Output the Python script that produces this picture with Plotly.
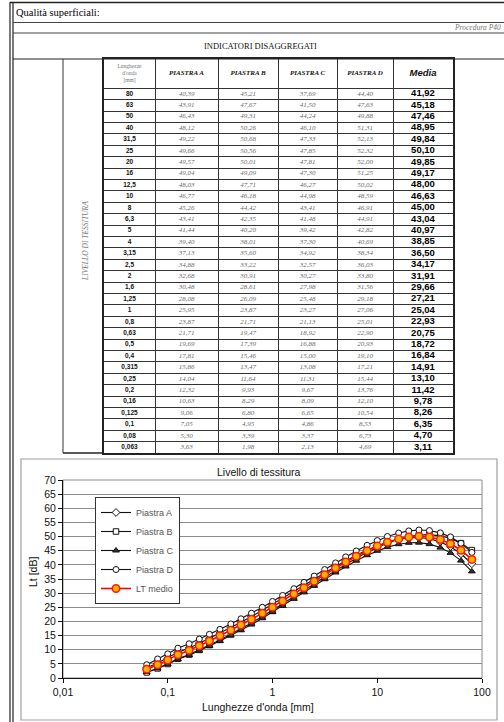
import plotly.graph_objects as go

# ---------------- data ----------------
freq = [80, 63, 50, 40, 31.5, 25, 20, 16, 12.5, 10, 8, 6.3, 5, 4, 3.15, 2.5, 2, 1.6,
        1.25, 1, 0.8, 0.63, 0.5, 0.4, 0.315, 0.25, 0.2, 0.16, 0.125, 0.1, 0.08, 0.063]
piastra_a = [40.39, 43.91, 46.43, 48.12, 49.22, 49.66, 49.57, 49.04, 48.03, 46.77, 45.26,
             43.41, 41.44, 39.40, 37.13, 34.88, 32.68, 30.48, 28.08, 25.95, 23.87, 21.71,
             19.69, 17.81, 15.86, 14.04, 12.32, 10.63, 9.06, 7.05, 5.30, 3.63]
piastra_b = [45.21, 47.67, 49.31, 50.26, 50.68, 50.56, 50.01, 49.09, 47.71, 46.18, 44.42,
             42.35, 40.20, 38.01, 35.60, 33.22, 30.91, 28.61, 26.09, 23.87, 21.71, 19.47,
             17.39, 15.46, 13.47, 11.64, 9.93, 8.29, 6.80, 4.95, 3.39, 1.98]
piastra_c = [37.69, 41.50, 44.24, 46.10, 47.33, 47.85, 47.81, 47.30, 46.27, 44.98, 43.41,
             41.48, 39.42, 37.30, 34.92, 32.57, 30.27, 27.98, 25.48, 23.27, 21.13, 18.92,
             16.88, 15.00, 13.08, 11.31, 9.67, 8.09, 6.65, 4.86, 3.37, 2.13]
piastra_d = [44.40, 47.63, 49.88, 51.31, 52.13, 52.32, 52.00, 51.25, 50.02, 48.59, 46.91,
             44.91, 42.82, 40.69, 38.34, 36.03, 33.80, 31.56, 29.18, 27.06, 25.01, 22.90,
             20.93, 19.10, 17.21, 15.44, 13.76, 12.10, 10.54, 8.53, 6.73, 4.69]
media = [41.92, 45.18, 47.46, 48.95, 49.84, 50.10, 49.85, 49.17, 48.00, 46.63, 45.00,
         43.04, 40.97, 38.85, 36.50, 34.17, 31.91, 29.66, 27.21, 25.04, 22.93, 20.75,
         18.72, 16.84, 14.91, 13.10, 11.42, 9.78, 8.26, 6.35, 4.70, 3.11]

col_headers = ["Lunghezze<br>d'onda<br>[mm]", "PIASTRA A", "PIASTRA B", "PIASTRA C",
               "PIASTRA D", "Media"]
series_names = ["Piastra A", "Piastra B", "Piastra C", "Piastra D", "LT medio"]
x_ticks = [0.01, 0.1, 1, 10, 100]
x_tick_labels = ["0,01", "0,1", "1", "10", "100"]
y_ticks = list(range(0, 75, 5))

# ---------------- layout helpers ----------------
W, H = 504, 722
def px(x):
    return x / W
def py(y):
    return 1 - y / H

col_edges = [104, 155, 218, 278, 337, 393, 453]
tbl_top, tbl_bot = 59, 453
row_h = 11.4
n = len(freq)
hdr_rows = (tbl_bot - tbl_top) / row_h - n
col_centers = [(col_edges[i] + col_edges[i + 1]) / 2 for i in range(len(col_edges) - 1)]

def fmt(v):
    return f"{v:.2f}".replace(".", ",")

def fmt_f(v):
    return ("%g" % v).replace(".", ",")

SANS = "Liberation Sans"
SERIF = "Liberation Serif"

fig = go.Figure()

# ---------------- chart ----------------
plate_series = [piastra_a, piastra_b, piastra_c, piastra_d]
marker_styles = [
    dict(symbol="diamond", size=6, color="white", line=dict(color="#111", width=1)),
    dict(symbol="square", size=5.5, color="white", line=dict(color="#111", width=1)),
    dict(symbol="triangle-up", size=6, color="#333", line=dict(color="#111", width=1)),
    dict(symbol="circle", size=6, color="white", line=dict(color="#111", width=1)),
]
for name, vals, mk in zip(series_names[:4], plate_series, marker_styles):
    fig.add_trace(go.Scatter(
        x=freq, y=vals, name=name, mode="lines+markers",
        line=dict(color="#111", width=1.1), marker=mk,
        xaxis="x", yaxis="y"))
fig.add_trace(go.Scatter(
    x=freq, y=media, name=series_names[4], mode="lines+markers",
    line=dict(color="#ff0000", width=1.6),
    marker=dict(symbol="circle", size=7.5, color="#ffb000",
                line=dict(color="#ff1a00", width=1.5)),
    xaxis="x", yaxis="y"))

# ---------------- table (text on its own axes) ----------------
rows = list(range(n))
col_data = [freq, piastra_a, piastra_b, piastra_c, piastra_d, media]
for j, vals in enumerate(col_data):
    if j == 0:
        txt = ["<b>" + fmt_f(v) + "</b>" for v in vals]
        font = dict(family=SANS, size=6.5, color="#111")
    elif j == 5:
        txt = ["<b>" + fmt(v) + "</b>" for v in vals]
        font = dict(family=SANS, size=9.5, color="#000")
    else:
        txt = ["<i>" + fmt(v) + "</i>" for v in vals]
        font = dict(family=SERIF, size=7, color="#6a6a6a")
    fig.add_trace(go.Scatter(
        x=[col_centers[j]] * n, y=rows, text=txt, mode="text",
        textposition="middle center", textfont=font, showlegend=False,
        hoverinfo="skip", cliponaxis=False, xaxis="x2", yaxis="y2"))

hdr_y = -0.5 - hdr_rows / 2
fig.add_trace(go.Scatter(
    x=[col_centers[0]], y=[hdr_y], text=[col_headers[0]], mode="text",
    textfont=dict(family=SERIF, size=5.5, color="#777"), showlegend=False,
    hoverinfo="skip", cliponaxis=False, xaxis="x2", yaxis="y2"))
fig.add_trace(go.Scatter(
    x=col_centers[1:5], y=[hdr_y] * 4,
    text=["<b><i>" + h + "</i></b>" for h in col_headers[1:5]], mode="text",
    textfont=dict(family=SERIF, size=7, color="#111"), showlegend=False,
    hoverinfo="skip", cliponaxis=False, xaxis="x2", yaxis="y2"))
fig.add_trace(go.Scatter(
    x=[col_centers[5]], y=[hdr_y], text=["<b><i>" + col_headers[5] + "</i></b>"],
    mode="text", textfont=dict(family=SANS, size=9.5, color="#111"), showlegend=False,
    hoverinfo="skip", cliponaxis=False, xaxis="x2", yaxis="y2"))

# ---------------- page frame shapes ----------------
LINE = "#222"
shapes = [
    dict(type="line", xref="paper", yref="paper", x0=px(10), x1=px(10), y0=py(2), y1=py(722),
         line=dict(color=LINE, width=1.2)),
    dict(type="line", xref="paper", yref="paper", x0=px(13), x1=px(13), y0=py(2), y1=py(722),
         line=dict(color=LINE, width=1.2)),
    dict(type="line", xref="paper", yref="paper", x0=px(10), x1=px(504), y0=py(2.5), y1=py(2.5),
         line=dict(color=LINE, width=1.5)),
    dict(type="line", xref="paper", yref="paper", x0=px(13), x1=px(504), y0=py(22.5), y1=py(22.5),
         line=dict(color="#444", width=1)),
    dict(type="line", xref="paper", yref="paper", x0=px(13), x1=px(504), y0=py(33), y1=py(33),
         line=dict(color="#444", width=1)),
    dict(type="line", xref="paper", yref="paper", x0=px(13), x1=px(504), y0=py(59), y1=py(59),
         line=dict(color=LINE, width=1.2)),
    dict(type="line", xref="paper", yref="paper", x0=px(63), x1=px(63), y0=py(59), y1=py(453),
         line=dict(color="#555", width=1.2)),
    dict(type="line", xref="paper", yref="paper", x0=px(63), x1=px(104), y0=py(453), y1=py(453),
         line=dict(color=LINE, width=1.5)),
    # chart box
    dict(type="rect", xref="paper", yref="paper", x0=px(21), x1=px(497), y0=py(720), y1=py(459),
         line=dict(color="#a0a0a0", width=1.2), layer="below"),
    # plot-area border
    dict(type="rect", xref="x domain", yref="y domain", x0=0, x1=1, y0=0, y1=1,
         line=dict(color="#8a8a8a", width=1), layer="below"),
]

annotations = [
    dict(text="Qualità superficiali:", x=px(14), y=py(12.5), xref="paper", yref="paper",
         xanchor="left", yanchor="middle", showarrow=False,
         font=dict(family=SERIF, size=10.5, color="#000")),
    dict(text="<i>Procedura P40</i>", x=px(503), y=py(28), xref="paper", yref="paper",
         xanchor="right", yanchor="middle", showarrow=False,
         font=dict(family=SERIF, size=7.5, color="#777")),
    dict(text="INDICATORI DISAGGREGATI", x=px(260), y=py(46), xref="paper", yref="paper",
         xanchor="center", yanchor="middle", showarrow=False,
         font=dict(family=SERIF, size=8.5, color="#111")),
    dict(text="<i>LIVELLO DI TESSITURA</i>", x=px(85), y=py(241), xref="paper", yref="paper",
         xanchor="center", yanchor="middle", showarrow=False, textangle=-90,
         font=dict(family=SERIF, size=7.5, color="#777")),
    dict(text="Livello di tessitura", x=px(259), y=py(472), xref="paper", yref="paper",
         xanchor="center", yanchor="middle", showarrow=False,
         font=dict(family=SANS, size=10.5, color="#111")),
    dict(text="Lunghezze d'onda [mm]", x=px(258), y=py(707), xref="paper", yref="paper",
         xanchor="center", yanchor="middle", showarrow=False,
         font=dict(family=SANS, size=10.5, color="#111")),
    dict(text="Lt [dB]", x=px(33), y=py(572), xref="paper", yref="paper",
         xanchor="center", yanchor="middle", showarrow=False, textangle=-90,
         font=dict(family=SANS, size=10.5, color="#111")),
]

fig.update_layout(
    template="none",
    width=W, height=H,
    margin=dict(l=0, r=0, t=0, b=0, pad=0),
    paper_bgcolor="white", plot_bgcolor="white",
    showlegend=True,
    legend=dict(x=px(95), y=py(497), xanchor="left", yanchor="top",
                bgcolor="white", bordercolor="#333", borderwidth=1,
                font=dict(family=SANS, size=9, color="#555"),
                itemwidth=30, tracegroupgap=0),
    xaxis=dict(type="log", range=[-2, 2], domain=[px(63), px(482)], anchor="y",
               tickvals=x_ticks, ticktext=x_tick_labels, ticks="outside", ticklen=4,
               tickcolor="#111", showline=True, linecolor="#111", linewidth=1,
               showgrid=False, zeroline=False, automargin=False,
               tickfont=dict(family=SANS, size=10.5, color="#111")),
    yaxis=dict(range=[0, 70], domain=[py(678), py(480)], anchor="x",
               tickvals=y_ticks, ticks="outside", ticklen=4, tickcolor="#111",
               showline=True, linecolor="#111", linewidth=1,
               showgrid=True, gridcolor="#8c8c8c", gridwidth=1, zeroline=False,
               automargin=False, tickfont=dict(family=SANS, size=10.5, color="#111")),
    xaxis2=dict(range=[col_edges[0], col_edges[-1]], domain=[px(col_edges[0]), px(col_edges[-1])],
                anchor="y2", tickvals=col_edges[1:-1], showticklabels=False, ticks="",
                showgrid=True, gridcolor="#333", gridwidth=1.3, zeroline=False,
                showline=True, mirror=True, linecolor="#222", linewidth=1.6,
                automargin=False, fixedrange=True),
    yaxis2=dict(range=[n - 0.5, -0.5 - hdr_rows], domain=[py(tbl_bot), py(tbl_top)],
                anchor="x2", tickvals=[i - 0.5 for i in range(n)], showticklabels=False,
                ticks="", showgrid=True, gridcolor="#333", gridwidth=1.3, zeroline=False,
                showline=True, mirror=True, linecolor="#222", linewidth=1.6,
                automargin=False, fixedrange=True),
    shapes=shapes,
    annotations=annotations,
)

fig.write_html(
    "out.html",
    config={"displayModeBar": False},
    post_script="document.body.style.margin='0';document.body.style.overflow='hidden';",
)
